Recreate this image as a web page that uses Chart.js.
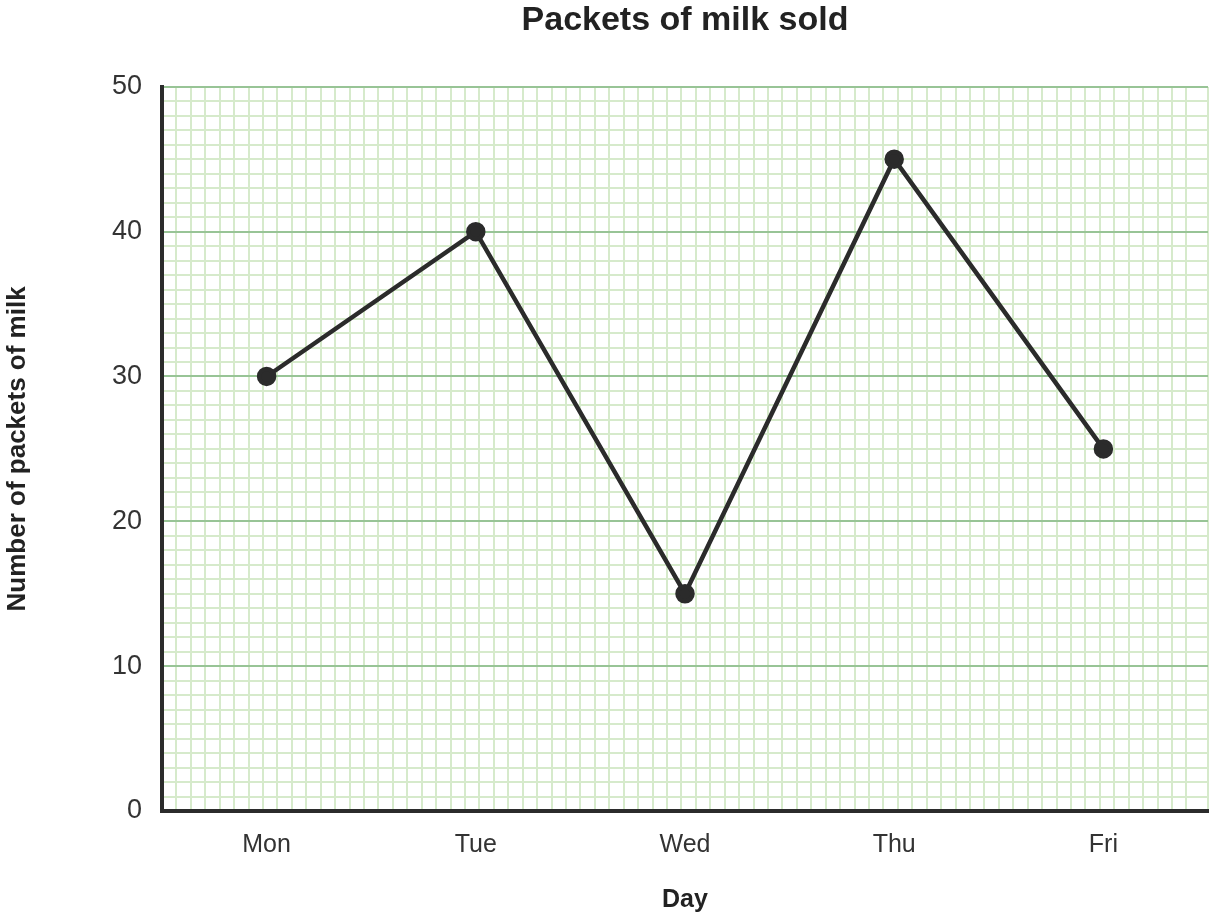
<!DOCTYPE html>
<html>
<head>
<meta charset="utf-8">
<script src="https://cdn.jsdelivr.net/npm/chart.js@4"></script>
<style>
  html, body { margin: 0; padding: 0; background: #fff; }
  #wrap { width: 1220px; height: 918px; }
</style>
</head>
<body>
<div id="wrap"><canvas id="c"></canvas></div>
<script>
const days = ['Mon', 'Tue', 'Wed', 'Thu', 'Fri'];
const packets = [30, 40, 15, 45, 25];
const yMin = 0;
const yMax = 50;
const yMajorStep = 10;
const chartTitle = 'Packets of milk sold';
const xTitle = 'Day';
const yTitle = 'Number of packets of milk';

const FONT = "'Liberation Sans', Arial, sans-serif";
const MAJOR = '#98c496';
const MINOR = '#d6eacb';
const INK = '#2b2b2b';

new Chart(document.getElementById('c'), {
  type: 'line',
  data: {
    labels: days,
    datasets: [{
      data: packets,
      borderColor: INK,
      backgroundColor: INK,
      borderWidth: 4.5,
      pointRadius: 7.5,
      pointHoverRadius: 7.5,
      pointBackgroundColor: INK,
      pointBorderColor: INK,
      tension: 0,
      xAxisID: 'x',
      yAxisID: 'y'
    }]
  },
  options: {
    responsive: true,
    maintainAspectRatio: false,
    animation: false,
    devicePixelRatio: 1,
    layout: { padding: { left: 0, right: 8, top: 0, bottom: 0 } },
    plugins: {
      legend: { display: false },
      tooltip: { enabled: false },
      title: {
        display: true,
        fullSize: false,
        text: chartTitle,
        color: '#222',
        font: { family: FONT, size: 34, weight: 'bold' },
        padding: { top: 0, bottom: 46 }
      }
    },
    scales: {
      xg: {
        type: 'linear',
        position: 'top',
        min: 0,
        max: 72.5,
        display: true,
        ticks: { display: false, stepSize: 1, autoSkip: false },
        grid: {
          color: ctx => (ctx.tick && ctx.tick.value === 0 ? 'rgba(0,0,0,0)' : MINOR),
          lineWidth: 2,
          drawTicks: false
        },
        border: { display: false },
        afterFit: s => { s.height = 0; }
      },
      x: {
        type: 'category',
        offset: true,
        grid: { display: false, drawTicks: false },
        border: { display: true, color: INK, width: 4, z: 5 },
        ticks: { color: '#333', font: { family: FONT, size: 25 }, padding: 19 },
        title: {
          display: true,
          text: xTitle,
          color: '#222',
          font: { family: FONT, size: 25, weight: 'bold' },
          padding: { top: 0, bottom: 3 }
        },
        afterFit: s => { s.height = 107; }
      },
      y: {
        type: 'linear',
        min: yMin,
        max: yMax,
        ticks: {
          stepSize: 1,
          autoSkip: false,
          color: '#333',
          font: { family: FONT, size: 27 },
          padding: 20,
          callback: v => (v % yMajorStep === 0 ? String(v) : '')
        },
        grid: {
          drawTicks: false,
          lineWidth: 2,
          color: ctx => {
            if (!ctx.tick) return MINOR;
            if (ctx.tick.value === 0) return 'rgba(0,0,0,0)';
            return ctx.tick.value % yMajorStep === 0 ? MAJOR : MINOR;
          }
        },
        border: { display: true, color: INK, width: 4 },
        title: {
          display: true,
          text: yTitle,
          color: '#222',
          font: { family: FONT, size: 26, weight: 'bold' },
          padding: { top: 2, bottom: 0 }
        },
        afterFit: s => { s.width = 162; }
      }
    }
  }
});
</script>
</body>
</html>
